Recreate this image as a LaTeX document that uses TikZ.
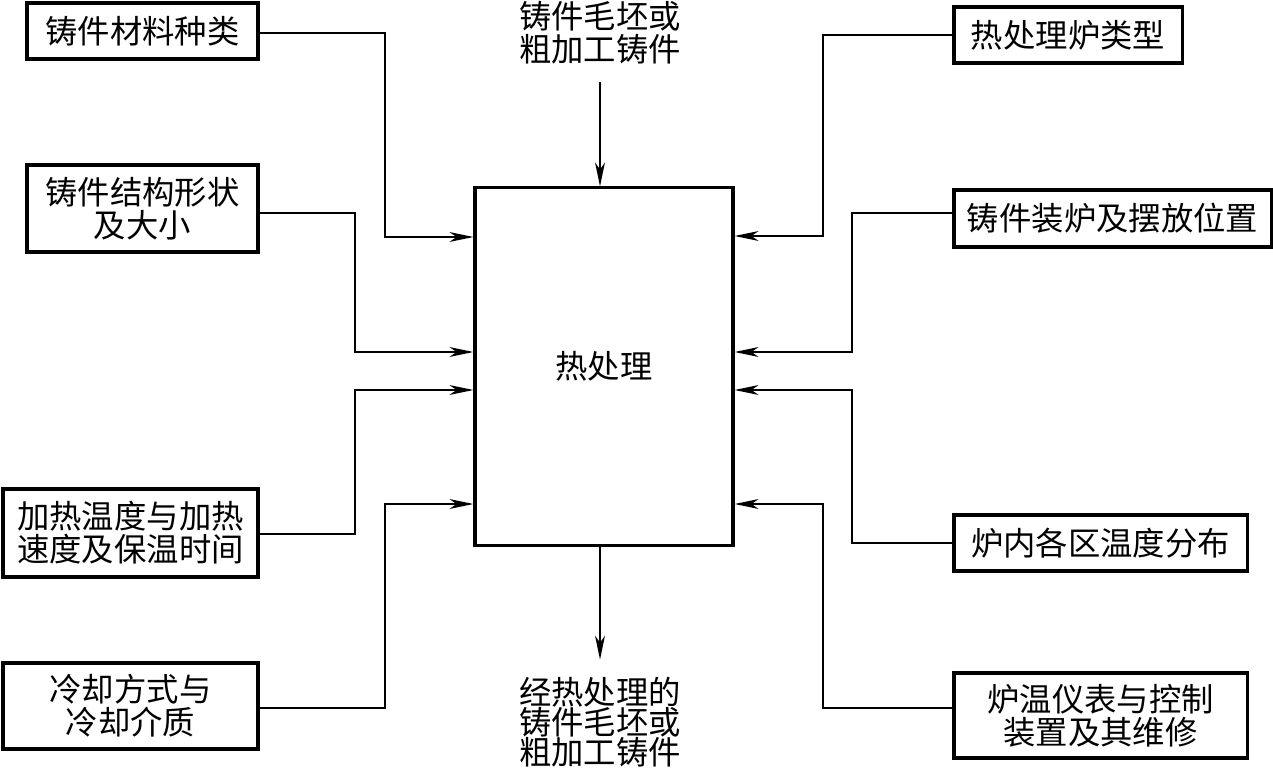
\documentclass[tikz,border=0pt]{standalone}
\usepackage{fontspec}
\setmainfont{Noto Sans CJK SC}
\usetikzlibrary{arrows.meta}

\begin{document}
\begin{tikzpicture}[x=0.025cm, y=-0.025cm,
    every node/.style={font=\fontsize{23}{23.5}\selectfont, align=center, inner sep=0pt},
    box/.style={draw, rectangle, line width=2.2pt},
    arr/.style={-{Stealth[length=17pt, width=7pt, inset=5pt]}, line width=1.1pt}]
    \useasboundingbox (0,0) rectangle (1273,773);

    % centre block and its input / output
    \node[box, minimum width=6.45cm, minimum height=8.925cm] (main) at (604,366.5) {热处理};
    \node (src) at (600,33) {铸件毛坯或\\粗加工铸件};
    \node[font=\fontsize{23}{21.5}\selectfont] (out) at (600,722) {经热处理的\\铸件毛坯或\\粗加工铸件};

    % factors on the left
    \node[box, minimum width=5.775cm, minimum height=1.4cm] (mat) at (142.5,31) {铸件材料种类};
    \node[box, minimum width=5.775cm, minimum height=2.175cm] (shape) at (142.5,208.5) {铸件结构形状\\及大小};
    \node[box, minimum width=6.375cm, minimum height=2.2cm] (heat) at (130.5,533) {加热温度与加热\\速度及保温时间};
    \node[box, minimum width=6.375cm, minimum height=2.15cm] (cool) at (130.5,706) {冷却方式与\\冷却介质};

    % factors on the right
    \node[box, minimum width=5.7cm, minimum height=1.4cm] (furn) at (1068,35) {热处理炉类型};
    \node[box, minimum width=7.925cm, minimum height=1.425cm] (load) at (1112.5,218.5) {铸件装炉及摆放位置};
    \node[box, minimum width=7.325cm, minimum height=1.4cm] (zone) at (1100.5,543) {炉内各区温度分布};
    \node[box, minimum width=7.325cm, minimum height=2.125cm] (ctrl) at (1100.5,715.5) {炉温仪表与控制\\装置及其维修};

    \draw[arr, shorten <=12pt] (src) -- (main.north -| src);
    \draw[arr, shorten >=12pt] (main.south -| out) -- (out);

    \draw[arr] (mat.east |- 0,33) -| (385,237) -- (main.west |- 0,237);
    \draw[arr] (shape.east |- 0,213) -| (355,352) -- (main.west |- 0,352);
    \draw[arr] (heat.east |- 0,534) -| (355,390) -- (main.west |- 0,390);
    \draw[arr] (cool.east |- 0,708) -| (385,504) -- (main.west |- 0,504);

    \draw[arr] (furn.west |- 0,35) -| (823,236) -- (main.east |- 0,236);
    \draw[arr] (load.west |- 0,213) -| (852,352) -- (main.east |- 0,352);
    \draw[arr] (zone.west |- 0,543) -| (852,390) -- (main.east |- 0,390);
    \draw[arr] (ctrl.west |- 0,708) -| (823,504) -- (main.east |- 0,504);
\end{tikzpicture}
\end{document}
